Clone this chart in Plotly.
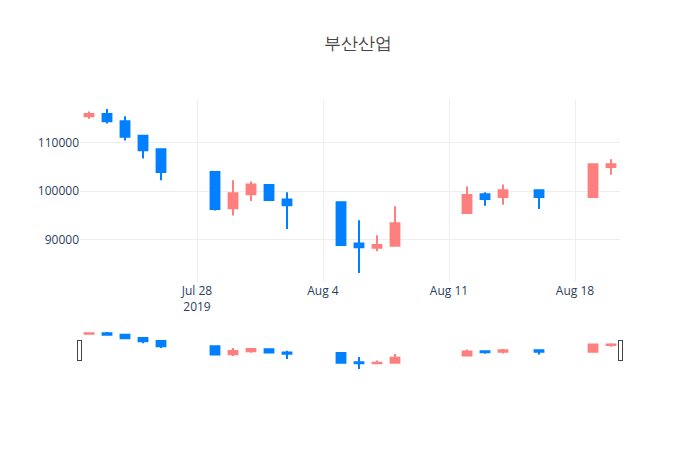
import plotly.graph_objects as go

dates = ["2019-07-22", "2019-07-23", "2019-07-24", "2019-07-25", "2019-07-26",
         "2019-07-29", "2019-07-30", "2019-07-31", "2019-08-01", "2019-08-02",
         "2019-08-05", "2019-08-06", "2019-08-07", "2019-08-08",
         "2019-08-12", "2019-08-13", "2019-08-14", "2019-08-16",
         "2019-08-19", "2019-08-20"]
opens = [115500, 116000, 114500, 111500, 108700,
         104000, 96500, 99400, 101300, 98300,
         97700, 89200, 88300, 88700,
         95500, 99400, 98800, 100200,
         98800, 105000]
highs = [116500, 117000, 115500, 111500, 108700,
         104200, 102300, 102000, 101300, 99800,
         97700, 94000, 90900, 96900,
         101000, 99800, 101400, 100200,
         105600, 106600]
lows = [115000, 114000, 110500, 106800, 102300,
        96000, 95000, 98000, 98000, 92200,
        88700, 83100, 87600, 88500,
        95300, 97000, 97200, 96300,
        98700, 103400]
closes = [116000, 114500, 111300, 108500, 104000,
          96300, 99600, 101400, 98200, 97100,
          88900, 88400, 88900, 93400,
          99200, 98400, 100200, 98800,
          105600, 105600]

fig = go.Figure(go.Candlestick(
    x=dates, open=opens, high=highs, low=lows, close=closes,
    increasing=dict(line=dict(color="#FF7F7F"), fillcolor="#FF7F7F"),
    decreasing=dict(line=dict(color="#0080FF"), fillcolor="#0080FF"),
    showlegend=False,
))

fig.update_layout(
    title=dict(text="부산산업", x=0.5, y=0.922, yanchor="middle",
               font=dict(size=17, color="#444")),
    width=700, height=450,
    plot_bgcolor="white", paper_bgcolor="white",
    margin=dict(l=72, r=88, t=92, b=88),
    xaxis=dict(range=["2019-07-21 12:00", "2019-08-20 12:00"], gridcolor="#eee",
               rangeslider=dict(visible=True)),
    yaxis=dict(gridcolor="#eee", tickformat="d"),
)

fig.write_html("out.html")
